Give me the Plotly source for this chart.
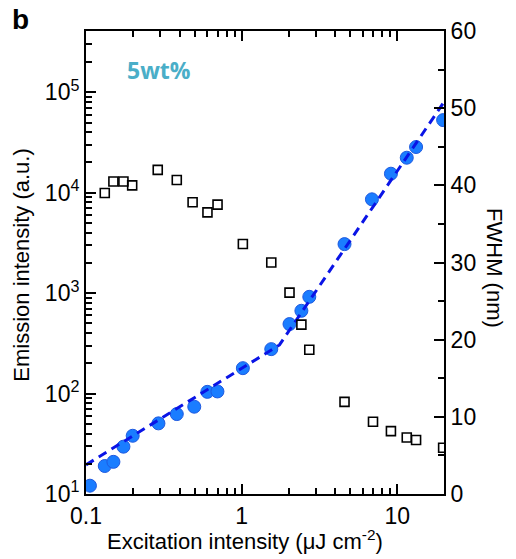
import plotly.graph_objects as go

# Emission intensity (left axis, log)
exc_em = [0.106, 0.132, 0.150, 0.174, 0.1995, 0.292, 0.383, 0.496, 0.602, 0.699,
          1.018, 1.55, 2.03, 2.42, 2.72, 4.58, 6.87, 9.1, 11.5, 13.2, 19.7]
emission = [12.1, 19.0, 20.9, 29.6, 38.0, 50.5, 62.5, 74.0, 104, 105,
            179, 277, 492, 667, 919, 3076, 8590, 15460, 22300, 28500, 52800]

# Dashed fit line
fit_x = [0.1, 1.75, 19.95]
fit_y = [19.5, 305, 80000]

# FWHM (right axis, linear)
exc_fw = [0.132, 0.150, 0.174, 0.198, 0.289, 0.383, 0.484, 0.603, 0.70, 1.018,
          1.55, 2.03, 2.42, 2.72, 4.58, 6.98, 9.1, 11.5, 13.2, 19.7]
fwhm = [39.0, 40.5, 40.5, 40.0, 42.0, 40.7, 37.8, 36.5, 37.5, 32.4,
        30.0, 26.1, 21.95, 18.7, 11.94, 9.36, 8.15, 7.33, 6.99, 5.99]

x_tickvals = [0.1, 1, 10]
x_ticktext = ["0.1", "1", "10"]
y_tickvals = [1e1, 1e2, 1e3, 1e4, 1e5]
y_ticktext = ["10<sup>1</sup>", "10<sup>2</sup>", "10<sup>3</sup>", "10<sup>4</sup>", "10<sup>5</sup>"]

x_minor = [m * 10 ** e for e in (-1, 0, 1) for m in range(2, 10) if m * 10 ** e <= 20]
y_minor = [m * 10 ** e for e in (1, 2, 3, 4, 5) for m in range(2, 10)]

font_main = "Liberation Sans, Arial, sans-serif"

fig = go.Figure()

fig.add_trace(go.Scatter(
    x=exc_em, y=emission, mode="markers",
    marker=dict(symbol="circle", size=13, color="#1a7dff",
                line=dict(color="#1f5ae0", width=1)),
    showlegend=False))

fig.add_trace(go.Scatter(
    x=fit_x, y=fit_y, mode="lines",
    line=dict(color="#0a14e6", width=3, dash="9px,6px"),
    showlegend=False))

fig.add_trace(go.Scatter(
    x=exc_fw, y=fwhm, mode="markers", yaxis="y2",
    marker=dict(symbol="square-open", size=9, color="black",
                line=dict(color="black", width=1.6)),
    showlegend=False))

axis_common = dict(showgrid=False, zeroline=False, showline=True,
                   linecolor="black", linewidth=2, ticks="inside",
                   ticklen=10, tickwidth=2, tickcolor="black",
                   tickfont=dict(family=font_main, size=23, color="black"))

fig.update_layout(
    width=516, height=559,
    margin=dict(l=86, r=72, t=31, b=65),
    plot_bgcolor="white", paper_bgcolor="white",
    xaxis=dict(type="log", range=[-1, 1.3], tickvals=x_tickvals, ticktext=x_ticktext,
               mirror="ticks",
               minor=dict(ticks="inside", ticklen=6, tickwidth=1.5, tickcolor="black",
                          tickvals=x_minor, showgrid=False),
               **axis_common),
    yaxis=dict(type="log", range=[1, 5.61], tickvals=y_tickvals, ticktext=y_ticktext,
               minor=dict(ticks="inside", ticklen=6, tickwidth=1.5, tickcolor="black",
                          tickvals=y_minor, showgrid=False),
               **axis_common),
    yaxis2=dict(overlaying="y", side="right", range=[0, 60], tickvals=[0, 10, 20, 30, 40, 50, 60],
                minor=dict(ticks="inside", ticklen=6, tickwidth=1.5, tickcolor="black",
                           dtick=5, showgrid=False),
                **axis_common),
    annotations=[
        dict(text="Excitation intensity (μJ cm<sup>-2</sup>)", xref="paper", yref="paper",
             x=0.444, y=-0.099, xanchor="center", yanchor="middle", showarrow=False,
             font=dict(family=font_main, size=22, color="black")),
        dict(text="Emission intensity (a.u.)", xref="paper", yref="paper",
             x=-0.179, y=0.495, xanchor="center", yanchor="middle", showarrow=False,
             textangle=-90, font=dict(family=font_main, size=22, color="black")),
        dict(text="FWHM (nm)", xref="paper", yref="paper",
             x=1.1425, y=0.488, xanchor="center", yanchor="middle", showarrow=False,
             textangle=90, font=dict(family=font_main, size=22, color="black")),
        dict(text="<b>5wt%</b>", xref="paper", yref="paper",
             x=(159 - 86) / 358, y=(494 - 70) / 463, xanchor="center", yanchor="middle",
             showarrow=False, font=dict(family="Open Sans, sans-serif", size=23, color="#4aaec8")),
        dict(text="<b>b</b>", xref="paper", yref="paper",
             x=(20 - 86) / 358, y=(494 - 20) / 463, xanchor="center", yanchor="middle",
             showarrow=False, font=dict(family=font_main, size=28, color="black")),
    ],
)

fig.write_html("out.html")
